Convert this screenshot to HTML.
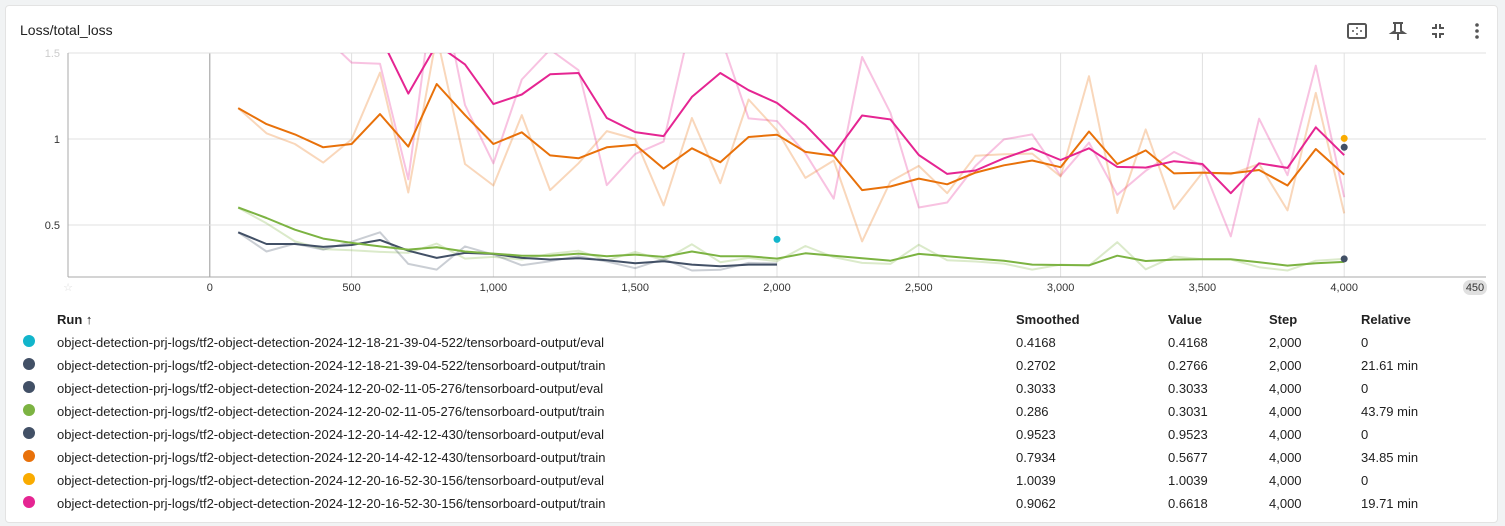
<!DOCTYPE html>
<html><head><meta charset="utf-8">
<style>
body{margin:0;width:1505px;height:526px;background:#f1f3f4;font-family:"Liberation Sans",Arial,sans-serif;overflow:hidden;position:relative}
#card{position:absolute;left:5px;top:5px;width:1491px;height:516px;background:#fff;border:1px solid #e3e3e3;border-radius:4px}
.title{position:absolute;left:14px;top:16px;font-size:14px;color:#212121}
.icon{position:absolute;top:14px;width:22px;height:22px}
svg text{font-family:"Liberation Sans",Arial,sans-serif}
.row{position:absolute;left:0;height:23px;font-size:13px;color:#212121;width:1490px}
.row span{position:absolute;top:0}
.dot{width:12px;height:12px;border-radius:50%;left:23px;top:3px}
.hdr{font-weight:bold}
</style></head><body>
<div id="card">
<div class="title">Loss/total_loss</div>
<svg class="icon" style="left:1340px" viewBox="0 0 22 22"><rect x="2" y="4" width="18" height="14" rx="1.5" fill="none" stroke="#555" stroke-width="2"/><circle cx="11" cy="8" r="1" fill="#555"/><circle cx="11" cy="14" r="1" fill="#555"/><circle cx="7" cy="11" r="1" fill="#555"/><circle cx="15" cy="11" r="1" fill="#555"/></svg>
<svg class="icon" style="left:1381px" viewBox="0 0 22 22"><path d="M6 3h10M8 3v8l-3 2h12l-3-2V3M11 13v7" fill="none" stroke="#555" stroke-width="2"/></svg>
<svg class="icon" style="left:1421px" viewBox="0 0 22 22"><path d="M5 8h4V4M17 8h-4V4M5 14h4v4M17 14h-4v4" fill="none" stroke="#555" stroke-width="2"/></svg>
<svg class="icon" style="left:1460px" viewBox="0 0 22 22"><circle cx="11" cy="5" r="1.8" fill="#555"/><circle cx="11" cy="11" r="1.8" fill="#555"/><circle cx="11" cy="17" r="1.8" fill="#555"/></svg>
</div>
<svg id="chart" width="1505" height="300" style="position:absolute;left:0;top:0"></svg>
<div id="table"></div>
<script>
const steps=[100,200,300,400,500,600,700,800,900,1000,1100,1200,1300,1400,1500,1600,1700,1800,1900,2000,2100,2200,2300,2400,2500,2600,2700,2800,2900,3000,3100,3200,3300,3400,3500,3600,3700,3800,3900,4000];
const orangeSmooth=[1.18,1.087,1.027,0.952,0.971,1.145,0.956,1.32,1.139,0.971,1.039,0.905,0.888,0.952,0.967,0.828,0.946,0.865,1.012,1.025,0.925,0.903,0.703,0.724,0.770,0.737,0.805,0.847,0.875,0.836,1.044,0.855,0.934,0.80,0.805,0.80,0.82,0.73,0.942,0.7934];
const orangeRaw=[1.18,1.033,0.971,0.863,0.998,1.386,0.689,1.6,0.855,0.73,1.139,0.703,0.859,1.046,1.0,0.614,1.122,0.743,1.23,1.05,0.774,0.875,0.405,0.753,0.844,0.685,0.903,0.911,0.915,0.782,1.365,0.57,1.056,0.593,0.805,0.795,0.855,0.585,1.268,0.5677];
const pinkSmooth=[1.9,1.8,1.75,1.7,1.65,1.6,1.264,1.55,1.434,1.203,1.259,1.376,1.384,1.122,1.04,1.017,1.245,1.384,1.284,1.21,1.081,0.911,1.137,1.114,0.907,0.797,0.817,0.888,0.946,0.878,0.946,0.838,0.834,0.871,0.855,0.685,0.859,0.832,1.068,0.9062];
const pinkRaw=[1.8,1.9,1.7,1.6,1.444,1.438,0.766,2.0,1.197,0.859,1.346,1.52,1.40,0.732,0.913,0.985,1.7,1.6,1.12,1.104,0.917,0.653,1.477,1.153,0.602,0.631,0.844,0.998,1.027,0.786,0.979,0.676,0.815,0.925,0.844,0.434,1.118,0.79,1.427,0.6618];
const greenSmooth=[0.602,0.541,0.473,0.421,0.396,0.376,0.357,0.371,0.346,0.334,0.322,0.322,0.334,0.319,0.328,0.315,0.346,0.319,0.319,0.305,0.336,0.322,0.307,0.293,0.332,0.319,0.305,0.293,0.27,0.268,0.266,0.322,0.291,0.299,0.301,0.301,0.284,0.264,0.278,0.286];
const greenRaw=[0.60,0.51,0.405,0.36,0.353,0.344,0.338,0.392,0.305,0.315,0.30,0.332,0.351,0.295,0.344,0.295,0.388,0.284,0.309,0.29,0.378,0.313,0.28,0.274,0.386,0.295,0.288,0.276,0.241,0.27,0.264,0.40,0.243,0.317,0.301,0.30,0.255,0.236,0.293,0.3031];
const navySmooth=[0.458,0.39,0.39,0.373,0.384,0.413,0.351,0.309,0.338,0.332,0.309,0.30,0.307,0.295,0.278,0.29,0.27,0.261,0.27,0.2702];
const navyRaw=[0.458,0.346,0.392,0.357,0.403,0.458,0.274,0.241,0.376,0.328,0.266,0.29,0.319,0.288,0.249,0.303,0.236,0.24,0.28,0.2766];
const evalSteps=[2000,4000,4000,4000];
const evalValues=[0.4168,0.3033,0.9523,1.0039];
const evalColors=['#12b5cb','#425066','#425066','#f9ab00'];
const xTicks=[-500,0,500,1000,1500,2000,2500,3000,3500,4000];
const xTickLabels=['-500','0','500','1,000','1,500','2,000','2,500','3,000','3,500','4,000'];
const yTicks=[0.5,1,1.5];
const yTickLabels=['0.5','1','1.5'];

const X0=68,X1=1486,Y0=277,Y1=53,DX0=-500,DX1=4500,DY0=0.198,DY1=1.5;
const sx=s=>X0+(s-DX0)/(DX1-DX0)*(X1-X0);
const sy=v=>Y0-(v-DY0)/(DY1-DY0)*(Y0-Y1);
const NS='http://www.w3.org/2000/svg';
const svg=document.getElementById('chart');
function mk(t,a,p){const e=document.createElementNS(NS,t);for(const k in a)e.setAttribute(k,a[k]);(p||svg).appendChild(e);return e;}
const defs=mk('defs',{});const cp=mk('clipPath',{id:'clip'},defs);mk('rect',{x:X0,y:Y1,width:X1-X0,height:Y0-Y1},cp);
const grid=mk('g',{});


xTicks.forEach((t,i)=>{const x=sx(t);
 const l=mk('line',{x1:x,x2:x,y1:Y1,y2:Y0,stroke:t===0?'#999':'#e0e0e0','stroke-width':1},grid);
 const tx=mk('text',{x:x,y:Y0+14,'text-anchor':'middle','font-size':'11px',fill:i===0?'#ddd':'#333'});
 tx.textContent=i===0?'☆':xTickLabels[i];
 
 });
yTicks.forEach((t,i)=>{const y=sy(t);
 mk('line',{x1:X0,x2:X1,y1:y,y2:y,stroke:'#e0e0e0'},grid);
 const tx=mk('text',{x:X0-8,y:y+4,'text-anchor':'end','font-size':'11px',fill:i===2?'#ccc':'#333'});
 tx.textContent=yTickLabels[i];
 
 });
mk('line',{x1:X0,x2:X0,y1:Y1,y2:Y0,stroke:'#aaa'});
mk('line',{x1:X0,x2:X1,y1:Y0,y2:Y0,stroke:'#aaa'});
const pill=mk('rect',{x:1463,y:Y0+3,width:24,height:15,rx:7,fill:'#e0e0e0'});
const pt=mk('text',{x:1475,y:Y0+14,'text-anchor':'middle','font-size':'11px',fill:'#333'});pt.textContent='450';


const plot=mk('g',{'clip-path':'url(#clip)'});
function line(xs,vs,color,w,op,name){
 const d=vs.map((v,i)=>(i?'L':'M')+sx(xs[i]).toFixed(1)+','+sy(v).toFixed(1)).join('');
 const p=mk('path',{d:d,fill:'none',stroke:color,'stroke-width':w,'stroke-opacity':op,'stroke-linejoin':'round'},plot);
 
 }
const ns=steps.slice(0,navyRaw.length);
line(steps,pinkRaw,'#e52592',2,0.28,'pink-train-raw');
line(steps,orangeRaw,'#e8710a',2,0.28,'orange-train-raw');
line(steps,greenRaw,'#7cb342',2,0.28,'green-train-raw');
line(ns,navyRaw,'#425066',2,0.28,'navy-train-raw');
line(ns,navySmooth,'#425066',2,1,'navy-train-smoothed');
line(steps,greenSmooth,'#7cb342',2,1,'green-train-smoothed');
line(steps,orangeSmooth,'#e8710a',2,1,'orange-train-smoothed');
line(steps,pinkSmooth,'#e52592',2,1,'pink-train-smoothed');
evalSteps.forEach((s,i)=>{const c=mk('circle',{cx:sx(s),cy:sy(evalValues[i]),r:3.5,fill:evalColors[i]});
 
 });

const runs=[
['#12b5cb','object-detection-prj-logs/tf2-object-detection-2024-12-18-21-39-04-522/tensorboard-output/eval','0.4168','0.4168','2,000','0'],
['#425066','object-detection-prj-logs/tf2-object-detection-2024-12-18-21-39-04-522/tensorboard-output/train','0.2702','0.2766','2,000','21.61 min'],
['#425066','object-detection-prj-logs/tf2-object-detection-2024-12-20-02-11-05-276/tensorboard-output/eval','0.3033','0.3033','4,000','0'],
['#7cb342','object-detection-prj-logs/tf2-object-detection-2024-12-20-02-11-05-276/tensorboard-output/train','0.286','0.3031','4,000','43.79 min'],
['#425066','object-detection-prj-logs/tf2-object-detection-2024-12-20-14-42-12-430/tensorboard-output/eval','0.9523','0.9523','4,000','0'],
['#e8710a','object-detection-prj-logs/tf2-object-detection-2024-12-20-14-42-12-430/tensorboard-output/train','0.7934','0.5677','4,000','34.85 min'],
['#f9ab00','object-detection-prj-logs/tf2-object-detection-2024-12-20-16-52-30-156/tensorboard-output/eval','1.0039','1.0039','4,000','0'],
['#e52592','object-detection-prj-logs/tf2-object-detection-2024-12-20-16-52-30-156/tensorboard-output/train','0.9062','0.6618','4,000','19.71 min']];
const tb=document.getElementById('table');
let h='<div class="row hdr" style="top:312px"><span style="left:57px">Run ↑</span><span style="left:1016px">Smoothed</span><span style="left:1168px">Value</span><span style="left:1269px">Step</span><span style="left:1361px">Relative</span></div>';
runs.forEach((r,i)=>{const t=335+i*23;
h+='<div class="row" style="top:'+t+'px"><span class="dot" style="background:'+r[0]+'"></span><span style="left:57px">'+r[1]+'</span><span style="left:1016px">'+r[2]+'</span><span style="left:1168px">'+r[3]+'</span><span style="left:1269px">'+r[4]+'</span><span style="left:1361px">'+r[5]+'</span></div>';});
tb.innerHTML=h;
</script>
</body></html>
